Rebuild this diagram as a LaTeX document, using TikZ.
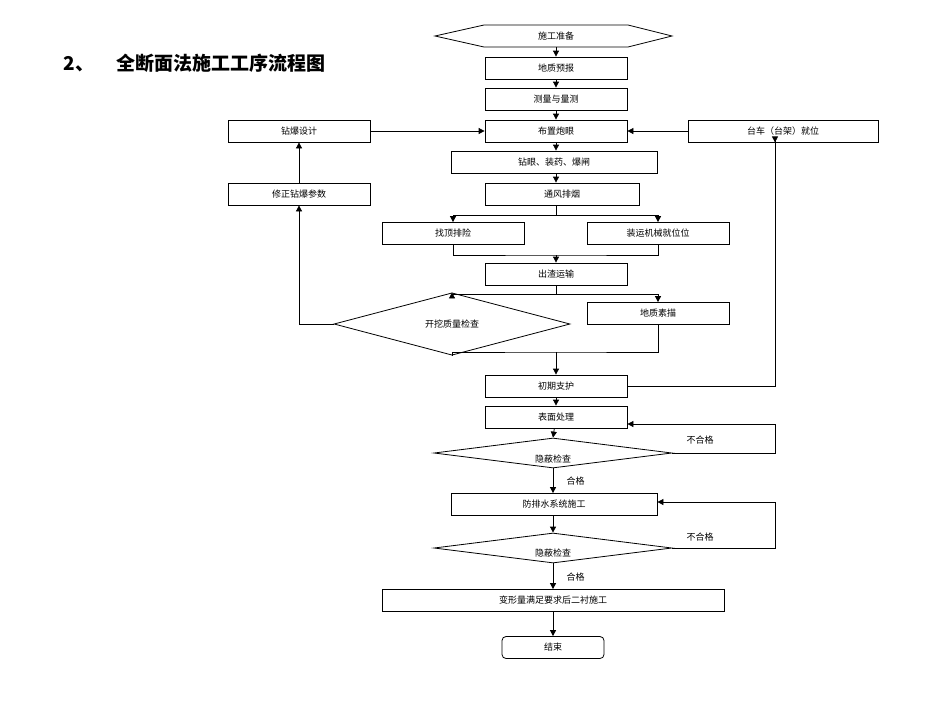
\documentclass[tikz,border=0pt]{standalone}
\usepackage{fontspec}
\setmainfont{Noto Sans CJK SC}
\usetikzlibrary{shapes.geometric,arrows.meta}
\begin{document}
\begin{tikzpicture}[x=1pt,y=-1pt,
  box/.style={draw,thick,inner sep=0,minimum height=22pt,font=\fontsize{9}{10}\selectfont},
  dia/.style={draw,thick,diamond,inner sep=0,font=\fontsize{9}{10}\selectfont},
  lbl/.style={font=\fontsize{9}{10}\selectfont},
  arr/.style={thick,-{Triangle[length=6pt,width=6pt]}},
  ln/.style={thick}]
\useasboundingbox (0,0) rectangle (950,713);
\node[anchor=west,font=\fontsize{19}{20}\selectfont\bfseries] (title) at (60,63) {2、\hspace{22pt}全断面法施工工序流程图};
% hexagon
\draw[thick] (435,36)--(484,25)--(628,25)--(672,36)--(628,47)--(484,47)--cycle;
\node[lbl] (start) at (556,36) {施工准备};
\coordinate (startb) at (556,47);
\node[box,minimum width=142pt] (a) at (556,68) {地质预报};
\node[box,minimum width=142pt] (b) at (556,99) {测量与量测};
\node[box,minimum width=142pt] (c) at (556,131) {布置炮眼};
\node[box,minimum width=142pt] (zb) at (299,131) {钻爆设计};
\node[box,minimum width=190pt] (tc) at (783,131) {台车（台架）就位};
\node[box,minimum width=206pt] (d) at (554,162) {钻眼、装药、爆闸};
\node[box,minimum width=154pt] (e) at (562,194) {通风排烟};
\node[box,minimum width=142pt] (xz) at (299,194) {修正钻爆参数};
\node[box,minimum width=142pt] (f1) at (453,233.5) {找顶排险};
\node[box,minimum width=142pt] (f2) at (658,233.5) {装运机械就位位};
\node[box,minimum width=142pt] (g) at (556,274) {出渣运输};
\node[dia,minimum width=236pt,minimum height=52pt] (h1) at (452,324) {开挖质量检查};
\node[box,minimum width=142pt] (h2) at (658,313.5) {地质素描};
\node[box,minimum width=142pt] (i) at (556,386) {初期支护};
\node[box,minimum width=142pt] (j) at (556,417) {表面处理};
\node[dia,minimum width=238pt,minimum height=30pt] (k) at (553,453) {};
\node[lbl] (kt) at (553,459) {隐蔽检查};
\node[box,minimum width=206pt] (l) at (554,504.5) {防排水系统施工};
\node[dia,minimum width=238pt,minimum height=30pt] (m) at (553,548) {};
\node[lbl] (mt) at (553,553) {隐蔽检查};
\node[box,minimum width=342pt] (n) at (553,600.5) {变形量满足要求后二衬施工};
\node[box,minimum width=102pt,rounded corners=4pt] (o) at (553,647.5) {结束};
% main arrows
\draw[arr] (startb) -- (a.north);
\draw[arr] (a) -- (b);
\draw[arr] (b) -- (c);
\draw[arr] (c.south) -- (c.south |- d.north);
\draw[arr] (c.south |- d.south) -- (c.south |- e.north);
\draw[arr] (zb) -- (c);
\draw[arr] (tc) -- (c);
\draw[arr] (xz) -- (zb);
% split to f1 f2
\coordinate (s1) at (556,215);
\draw[ln] (c.south |- e.south) -- (s1);
\draw[arr] (s1) -| (f1.north);
\draw[arr] (s1) -| (f2.north);
\coordinate (s2) at (556,255);
\draw[ln] (f1.south) |- (s2) -| (f2.south);
\draw[arr] (s2) -- (g.north);
\coordinate (s3) at (556,294);
\draw[ln] (g.south) -- (s3);
\draw[arr] (s3) -| (h1.north);
\draw[arr] (s3) -| (h2.north);
\coordinate (s4) at (556,352);
\draw[ln] (h1.south) |- (s4) -| (h2.south);
\draw[arr] (s4) -- (i.north);
\draw[arr] (h1.west) -| (xz.south);
\draw[arr] (i.east) -| (775,142) -- (tc.south -| 775,0);
\draw[arr] (i) -- (j);
\draw[arr] (j) -- (k.north);
\draw[arr] (k.east) -- (775,453) |- (j.east |- 0,424);
\node[lbl,anchor=west] (bh1) at (683,440) {不合格};
\draw[arr] (k.south) -- (l.north -| k.south);
\node[lbl,anchor=west] (h1l) at (563,481) {合格};
\draw[arr] (l.south -| m.north) -- (m.north);
\draw[arr] (m.east) -- (775,548) |- (l.east |- 0,502);
\node[lbl,anchor=west] (bh2) at (683,537) {不合格};
\draw[arr] (m.south) -- (n.north -| m.south);
\node[lbl,anchor=west] (h2l) at (563,577) {合格};
\draw[arr] (n) -- (o);
\end{tikzpicture}
\end{document}
